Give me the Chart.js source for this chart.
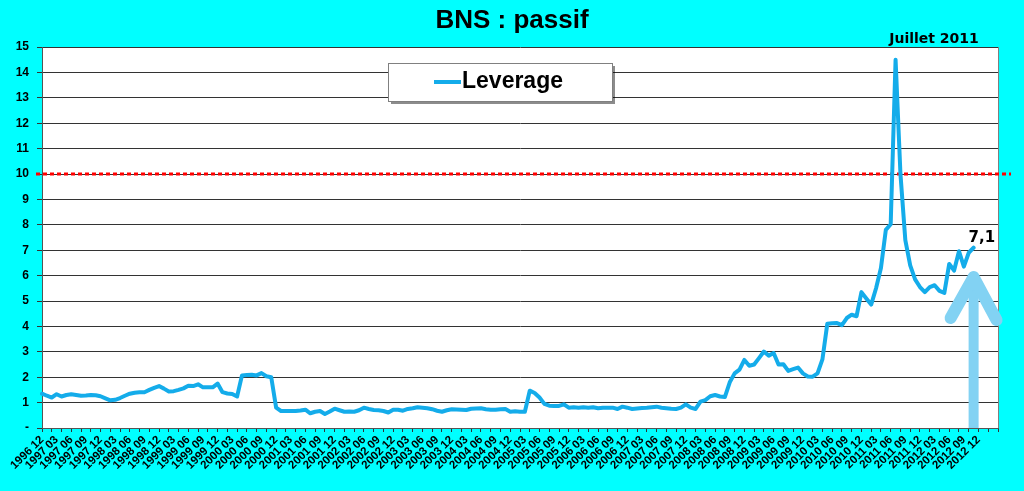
<!DOCTYPE html>
<html>
<head>
<meta charset="utf-8">
<script src="https://cdn.jsdelivr.net/npm/chart.js@4.4.1/dist/chart.umd.min.js"></script>
<style>
    html, body { margin: 0; padding: 0; background: #00ffff; }
    canvas { display: block; }
</style>
</head>
<body>
<canvas id="bnsChart" width="1024" height="491"></canvas>
<script>
// ── DATA ──────────────────────────────────────────────────────────────────────
// monthly categories, 1996 12 → 2013 04 (axis runs a few months past the last value)
const FIRST_YEAR  = 1996;
const FIRST_MONTH = 12;
const MONTH_COUNT = 197;
const LAST_LABEL_INDEX = 192; // "2012 12", no labels after it

const months = [];
for (let i = 0; i < MONTH_COUNT; i++) {
    const m = FIRST_MONTH - 1 + i;
    const y = FIRST_YEAR + Math.floor(m / 12);
    months.push(y + ' ' + String((m % 12) + 1).padStart(2, '0'));
}

// Leverage, one value per month starting 1996 12
const leverage = [
    1.35, 1.27, 1.20, 1.33, 1.24, 1.30, 1.33, 1.30, 1.27, 1.28, 1.30, 1.29,
    1.25, 1.17, 1.09, 1.11, 1.18, 1.27, 1.35, 1.39, 1.41, 1.41, 1.50, 1.58,
    1.65, 1.55, 1.44, 1.45, 1.50, 1.56, 1.66, 1.65, 1.72, 1.60, 1.60, 1.60,
    1.75, 1.41, 1.36, 1.34, 1.24, 2.07, 2.09, 2.10, 2.07, 2.16, 2.04, 2.00,
    0.80, 0.67, 0.67, 0.67, 0.67, 0.69, 0.72, 0.58, 0.64, 0.67, 0.55, 0.65,
    0.76, 0.70, 0.64, 0.65, 0.64, 0.70, 0.80, 0.75, 0.71, 0.70, 0.67, 0.61,
    0.72, 0.72, 0.68, 0.75, 0.78, 0.82, 0.80, 0.78, 0.74, 0.68, 0.64, 0.70,
    0.74, 0.73, 0.72, 0.71, 0.76, 0.77, 0.78, 0.74, 0.72, 0.72, 0.74, 0.75,
    0.64, 0.66, 0.64, 0.64, 1.47, 1.38, 1.20, 0.95, 0.88, 0.87, 0.87, 0.93,
    0.80, 0.82, 0.80, 0.82, 0.80, 0.82, 0.78, 0.80, 0.80, 0.80, 0.75, 0.84,
    0.80, 0.75, 0.77, 0.79, 0.80, 0.82, 0.84, 0.80, 0.78, 0.76, 0.75, 0.80,
    0.93, 0.80, 0.75, 1.04, 1.10, 1.25, 1.30, 1.24, 1.22, 1.80, 2.15, 2.30,
    2.68, 2.45, 2.50, 2.75, 3.01, 2.85, 2.95, 2.50, 2.51, 2.25, 2.32, 2.38,
    2.15, 2.03, 2.02, 2.15, 2.70, 4.10, 4.12, 4.13, 4.05, 4.33, 4.46, 4.40,
    5.35, 5.10, 4.86, 5.50, 6.30, 7.80, 8.02, 14.50, 10.00, 7.40, 6.40, 5.85,
    5.55, 5.35, 5.55, 5.62, 5.40, 5.32, 6.46, 6.20, 6.96, 6.35, 6.90, 7.10,
    null, null, null, null, null,
];

const yTicks     = [0, 1, 2, 3, 4, 5, 6, 7, 8, 9, 10, 11, 12, 13, 14, 15];
const THRESHOLD  = 10;
const LAST_INDEX = 191;
const LAST_LABEL = '7,1';
const PEAK_NOTE  = 'Juillet 2011';
const ARROW_TIP  = 6.1;

const LINE_BLUE  = '#14acea';
const ARROW_BLUE = '#82d2f3';

// ── DECORATIONS ───────────────────────────────────────────────────────────────
const decorations = {
    id: 'decorations',
    beforeDraw(chart) {
        const { ctx, chartArea: a } = chart;
        ctx.save();
        ctx.fillStyle = '#00ffff';
        ctx.fillRect(0, 0, chart.width, chart.height);
        ctx.fillStyle = '#ffffff';
        ctx.fillRect(a.left, a.top, a.right - a.left, a.bottom - a.top);
        ctx.restore();
    },
    beforeDatasetsDraw(chart) {
        const { ctx, chartArea: a, scales } = chart;
        // right border of the plot
        ctx.save();
        ctx.strokeStyle = '#808080';
        ctx.lineWidth = 1;
        ctx.beginPath();
        ctx.moveTo(a.right + 0.5, a.top);
        ctx.lineTo(a.right + 0.5, a.bottom);
        ctx.stroke();

        // red dotted threshold
        const y = Math.round(scales.y.getPixelForValue(THRESHOLD));
        ctx.strokeStyle = '#ff0000';
        ctx.lineWidth = 3;
        ctx.setLineDash([4, 3]);
        ctx.beginPath();
        ctx.moveTo(a.left - 6, y);
        ctx.lineTo(a.right + 13, y);
        ctx.stroke();
        ctx.restore();
    },
    afterDatasetsDraw(chart) {
        const { ctx, chartArea: a, scales } = chart;
        const x   = scales.x.getPixelForValue(LAST_INDEX);
        const tip = scales.y.getPixelForValue(ARROW_TIP);

        // big pale arrow under the last value
        ctx.save();
        ctx.strokeStyle = ARROW_BLUE;
        ctx.lineWidth = 10;
        ctx.beginPath();
        ctx.moveTo(x, a.bottom);
        ctx.lineTo(x, tip + 6);
        ctx.stroke();
        ctx.lineWidth = 12;
        ctx.lineCap = 'round';
        ctx.lineJoin = 'round';
        ctx.beginPath();
        ctx.moveTo(x - 23, tip + 45);
        ctx.lineTo(x, tip + 4);
        ctx.lineTo(x + 23, tip + 47);
        ctx.stroke();

        // value label
        const py = scales.y.getPixelForValue(leverage[LAST_INDEX]);
        ctx.fillStyle = '#000';
        ctx.font = 'bold 15px "DejaVu Sans"';
        ctx.textAlign = 'left';
        ctx.textBaseline = 'alphabetic';
        ctx.fillText(LAST_LABEL, x - 5, py - 6);
        ctx.restore();
    },
    afterDraw(chart) {
        const { ctx, chartArea: a } = chart;
        ctx.save();

        // title
        ctx.fillStyle = '#000';
        ctx.font = 'bold 26px "Liberation Sans"';
        ctx.textAlign = 'center';
        ctx.textBaseline = 'middle';
        ctx.fillText('BNS : passif', chart.width / 2, 21);

        // peak note
        ctx.font = 'bold 14px "DejaVu Sans"';
        ctx.textBaseline = 'alphabetic';
        ctx.fillText(PEAK_NOTE, a.right - 64, a.top - 4);

        // legend box
        const bx = 388, by = 63, bw = 224, bh = 38;
        ctx.fillStyle = 'rgba(0,0,0,0.45)';
        ctx.fillRect(bx + 3, by + 3, bw, bh);
        ctx.fillStyle = '#fff';
        ctx.fillRect(bx, by, bw, bh);
        ctx.strokeStyle = '#808080';
        ctx.lineWidth = 1;
        ctx.strokeRect(bx + 0.5, by + 0.5, bw, bh);

        ctx.strokeStyle = LINE_BLUE;
        ctx.lineWidth = 4;
        ctx.beginPath();
        ctx.moveTo(434, 82);
        ctx.lineTo(461, 82);
        ctx.stroke();

        ctx.fillStyle = '#000';
        ctx.font = 'bold 23px "Liberation Sans"';
        ctx.textAlign = 'left';
        ctx.textBaseline = 'middle';
        ctx.fillText(chart.data.datasets[0].label, 462, 82);
        ctx.restore();
    },
};

// ── CHART ─────────────────────────────────────────────────────────────────────
new Chart(document.getElementById('bnsChart'), {
    type: 'line',
    data: {
        labels: months,
        datasets: [{
            label: 'Leverage',
            data: leverage,
            borderColor: LINE_BLUE,
            borderWidth: 4,
            pointRadius: 0,
            tension: 0,
            fill: false,
            borderJoinStyle: 'round',
            borderCapStyle: 'round',
        }],
    },
    options: {
        responsive: false,
        animation: false,
        layout: { padding: { top: 47, right: 26, left: 0, bottom: 0 } },
        plugins: {
            legend: { display: false },
            title: { display: false },
            tooltip: { enabled: false },
        },
        scales: {
            x: {
                type: 'category',
                offset: false,
                afterFit: (scale) => { scale.height = 63; },
                ticks: {
                    autoSkip: false,
                    minRotation: 45,
                    maxRotation: 45,
                    padding: 1,
                    color: '#000',
                    font: { family: 'Liberation Sans', size: 11.5, weight: 'bold' },
                    callback: (v, i) => (i % 3 === 0 && i <= LAST_LABEL_INDEX) ? months[i] : '',
                },
                grid: {
                    drawOnChartArea: false,
                    tickLength: 4,
                    tickColor: (c) => (c.index % 2 === 0 ? '#333' : 'rgba(0,0,0,0)'),
                },
                border: { color: '#555', width: 1 },
            },
            y: {
                min: yTicks[0],
                max: yTicks[yTicks.length - 1],
                afterFit: (scale) => { scale.width = 42; },
                afterBuildTicks: (scale) => { scale.ticks = yTicks.map(v => ({ value: v })); },
                ticks: {
                    padding: 8,
                    color: '#000',
                    font: { family: 'Liberation Sans', size: 12, weight: 'bold' },
                    callback: (v) => (v === 0 ? '-' : v),
                },
                grid: { color: '#333', lineWidth: 1, tickLength: 5 },
                border: { color: '#555', width: 1 },
            },
        },
    },
    plugins: [decorations],
});
</script>
</body>
</html>
